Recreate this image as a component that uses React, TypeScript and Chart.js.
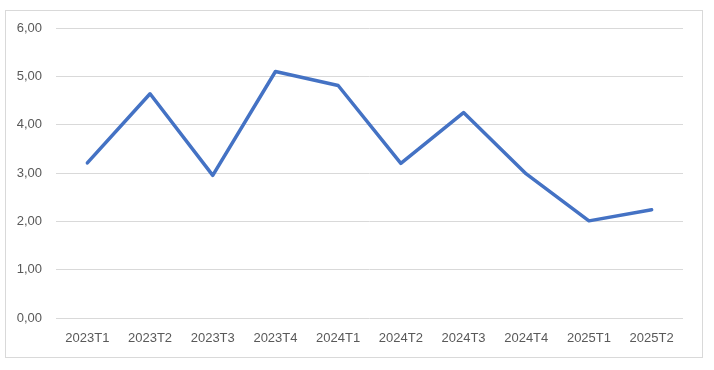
import React, { useEffect, useRef } from "react";
import { Chart, registerables } from "chart.js";

Chart.register(...registerables);

const categories = ["2023T1", "2023T2", "2023T3", "2023T4", "2024T1", "2024T2", "2024T3", "2024T4", "2025T1", "2025T2"];
const seriesValues = [3.21, 4.64, 2.95, 5.10, 4.81, 3.20, 4.25, 2.98, 2.01, 2.24];
const yTicks = [0, 1, 2, 3, 4, 5, 6];

export default function App() {
  const ref = useRef<HTMLCanvasElement | null>(null);
  useEffect(() => {
    if (!ref.current) return;
    const chart = new Chart(ref.current, {
      type: "line",
      data: {
        labels: categories,
        datasets: [
          {
            data: seriesValues,
            borderColor: "#4472C4",
            borderWidth: 3.5,
            pointRadius: 0,
            borderJoinStyle: "round",
            borderCapStyle: "round",
            tension: 0,
          },
        ],
      },
      options: {
        animation: false,
        responsive: false,
        layout: { padding: { left: 10, right: 31, top: 28, bottom: 22 } },
        plugins: { legend: { display: false }, tooltip: { enabled: false } },
        scales: {
          x: {
            offset: true,
            grid: { display: false, drawTicks: false },
            border: { display: false },
            ticks: {
              padding: 13,
              color: "#595959",
              font: { family: "Liberation Sans", size: 13 },
              maxRotation: 0,
            },
            afterFit: (s: any) => {
              s.height = 30;
            },
          },
          y: {
            min: 0,
            max: 6,
            afterBuildTicks: (s: any) => {
              s.ticks = yTicks.map((v) => ({ value: v }));
            },
            grid: { color: "#d9d9d9", drawTicks: false, lineWidth: 1 },
            border: { display: false },
            ticks: {
              padding: 14,
              color: "#595959",
              font: { family: "Liberation Sans", size: 13 },
              callback: (v: any) => Number(v).toFixed(2).replace(".", ","),
            },
            afterFit: (s: any) => {
              s.width = 46;
            },
          },
        },
      },
    });
    return () => chart.destroy();
  }, []);
  return (
    <div style={{ position: "fixed", left: 0, top: 0, width: 714, height: 370, background: "#fff" }}>
      <div
        style={{
          position: "absolute",
          left: 5,
          top: 10,
          width: 696,
          height: 346,
          border: "1px solid #d9d9d9",
          boxSizing: "content-box",
        }}
      />
      <canvas ref={ref} width={714} height={370} style={{ position: "absolute", left: 0, top: 0 }} />
    </div>
  );
}
